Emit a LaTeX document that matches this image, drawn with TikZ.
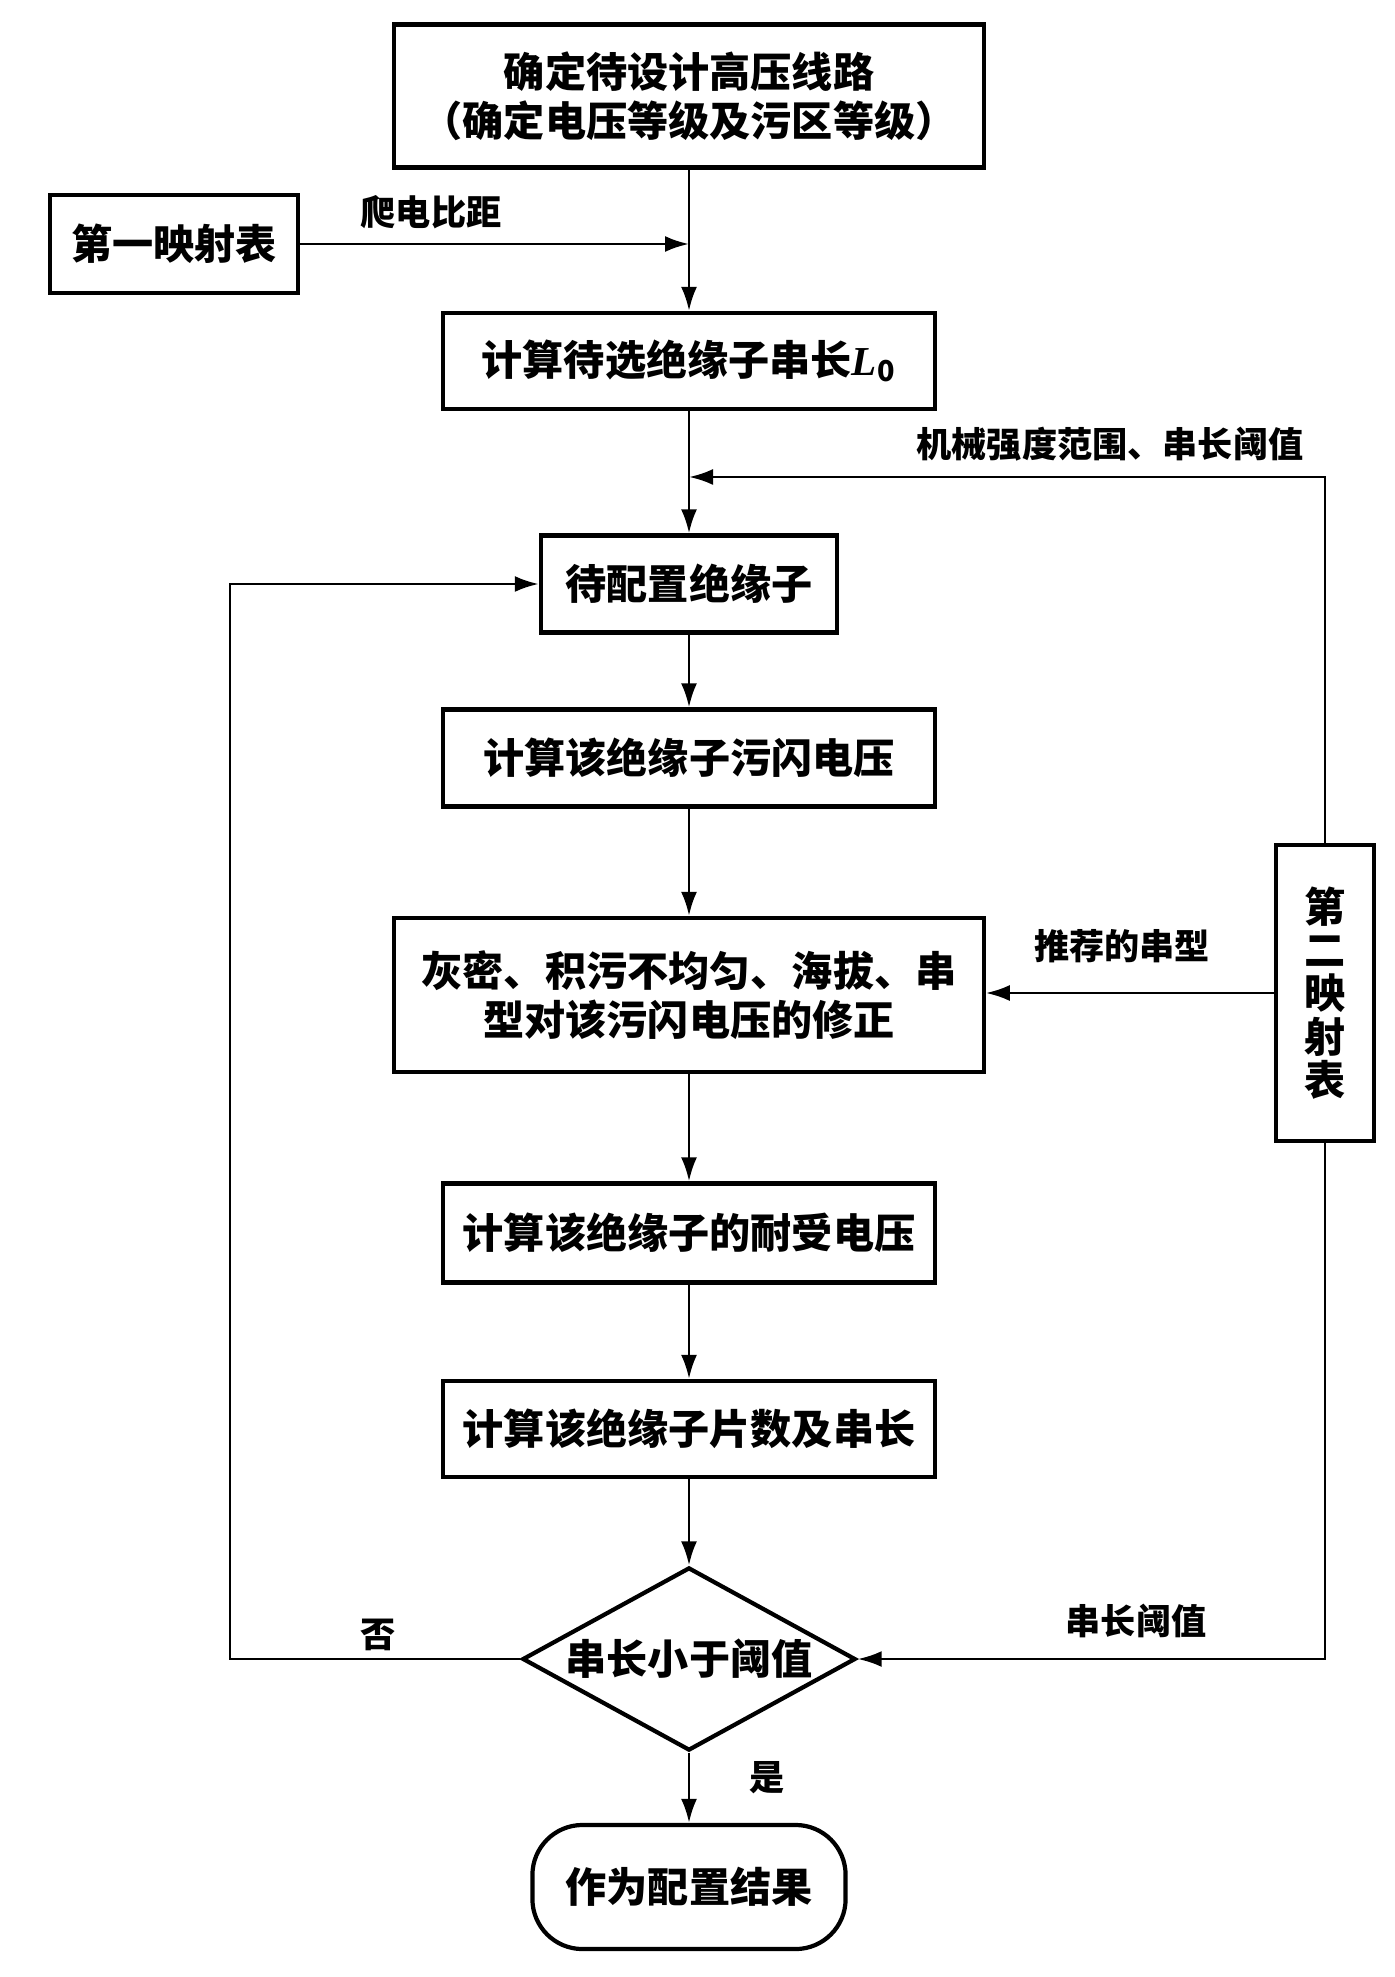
\documentclass[tikz,border=0pt]{standalone}
\usepackage{fontspec}
\setmainfont{Noto Sans CJK SC}
\newfontfamily\latfont{Liberation Serif}
\usetikzlibrary{shapes.geometric,arrows.meta}

\begin{document}
\begin{tikzpicture}[x=0.01cm, y=-0.01cm, line width=0.8pt,
  box/.style={draw, line width=1.2pt, inner sep=0pt, align=center,
    font=\fontsize{11.7}{14}\selectfont\bfseries},
  lbl/.style={font=\fontsize{10}{12}\selectfont\bfseries},
  arr/.style={-{Latex[length=2.4mm,width=1.6mm]}}]

  \useasboundingbox (0,0) rectangle (1395,1977);
  \def\xm{689}

  \node[box, minimum width=5.89cm, minimum height=1.43cm] (top) at (\xm,96)
    {确定待设计高压线路\\（确定电压等级及污区等级）};
  \node[box, minimum width=2.48cm, minimum height=0.98cm] (map1) at (174,244) {第一映射表};
  \node[box, minimum width=4.92cm, minimum height=0.96cm] (calcL) at (\xm,361)
    {计算待选绝缘子串长{\latfont\itshape L}\textsubscript{0}};
  \node[box, minimum width=2.96cm, minimum height=0.97cm] (insul) at (\xm,584) {待配置绝缘子};
  \node[box, minimum width=4.92cm, minimum height=0.97cm] (flash) at (\xm,758) {计算该绝缘子污闪电压};
  \node[box, minimum width=5.89cm, minimum height=1.54cm] (corr) at (\xm,995)
    {灰密、积污不均匀、海拔、串\\型对该污闪电压的修正};
  \node[box, minimum width=4.92cm, minimum height=0.99cm] (withst) at (\xm,1233) {计算该绝缘子的耐受电压};
  \node[box, minimum width=4.92cm, minimum height=0.96cm] (pieces) at (\xm,1429) {计算该绝缘子片数及串长};
  \node[box, diamond, aspect=1.82, inner sep=-1pt, minimum width=3.33cm, minimum height=1.83cm]
    (judge) at (\xm,1659) {串长小于阈值};
  \node[box, rounded corners=0.5cm, minimum width=3.13cm, minimum height=1.24cm] (result) at (\xm,1887)
    {作为配置结果};
  \node[box, minimum width=0.98cm, minimum height=2.96cm, font=\fontsize{11.7}{12.3}\selectfont\bfseries]
    (map2) at (1325,993) {第\\二\\映\\射\\表};

  \coordinate (mtop) at (1325,477);
  \coordinate (fb) at (230,1659);

  \draw[arr] (top) -- (calcL);
  \draw[arr] (map1.east) -- (map1.east -| top.south);
  \draw[arr] (calcL) -- (insul);
  \draw[arr] (map2.north) -- (mtop) -- (mtop -| calcL.south);
  \draw[arr] (insul) -- (flash);
  \draw[arr] (flash) -- (corr);
  \draw[arr] (map2.west) -- (map2.west -| corr.east);
  \draw[arr] (corr) -- (withst);
  \draw[arr] (withst) -- (pieces);
  \draw[arr] (pieces) -- (judge);
  \draw[arr] (map2.south) |- (judge.east);
  \draw[arr] (judge.west) -- (fb) |- (insul.west);
  \draw[arr] (judge) -- (result);

  \node[lbl] (creep) at (431,212) {爬电比距};
  \node[lbl] (mech) at (1110,444) {机械强度范围、串长阈值};
  \node[lbl] (rec) at (1122,946) {推荐的串型};
  \node[lbl] (thr) at (1136,1621) {串长阈值};
  \node[lbl] (no) at (378,1635) {否};
  \node[lbl] (yes) at (767,1778) {是};

\end{tikzpicture}
\end{document}
